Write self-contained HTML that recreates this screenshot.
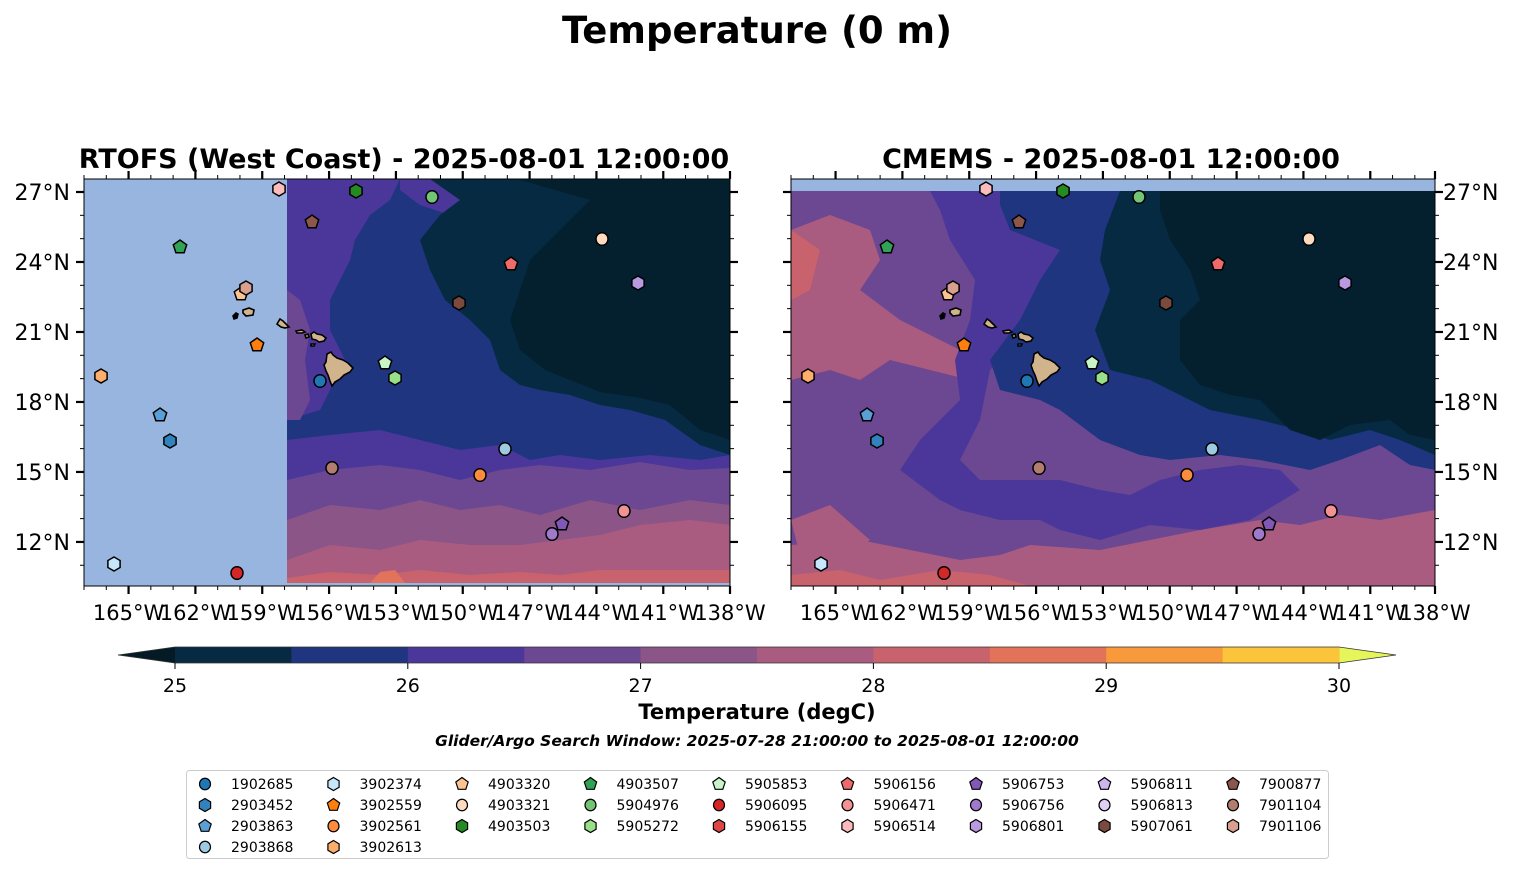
<!DOCTYPE html>
<html><head><meta charset="utf-8"><style>
body{margin:0;background:#fff;}
svg text{font-family:"DejaVu Sans","Liberation Sans",sans-serif;}
</style></head><body>
<svg id="s" width="1514" height="889" xmlns="http://www.w3.org/2000/svg">
<defs>
<clipPath id="cL"><rect x="84" y="179" width="646" height="407"/></clipPath>
<clipPath id="cR"><rect x="791" y="179" width="644" height="407"/></clipPath>
<g id="isl" stroke="#000" stroke-width="1.6" fill="#d2b48c">
<path d="M233,316 l3,-3 2,1 -1,4 -3,1z" fill="#000"/>
<path d="M243,310 l6,-2 5,2 -1,5 -7,1 -3,-3z"/>
<path d="M277,324 l3,-5 3,2 3,3 3,3 -4,1 -4,-1z"/>
<path d="M296,331 l6,-1 3,2 -3,1 -5,0z"/>
<path d="M305,335 l3,-1 1,3 -3,1z"/>
<path d="M311,334 l3,-2 3,2 5,1 4,3 -2,3 -5,1 -3,-2 -4,-1z"/>
<path d="M311,344 l4,0 -1,2 -3,0z"/>
<path d="M327,354 l4,-2 2,3 4,3 6,2 5,3 5,5 -3,4 -6,3 -4,4 -5,3 -3,4 -2,-5 -2,-6 -2,-4 -2,-6 2,-3z"/>
</g>
</defs>
<text x="757" y="43" font-size="37" font-weight="bold" text-anchor="middle">Temperature (0 m)</text>
<text x="404" y="168" font-size="27" font-weight="bold" text-anchor="middle">RTOFS (West Coast) - 2025-08-01 12:00:00</text>
<text x="1111" y="168" font-size="27" font-weight="bold" text-anchor="middle">CMEMS - 2025-08-01 12:00:00</text>

<g clip-path="url(#cL)">
<rect x="84" y="179" width="646" height="407" fill="#98b5e0"/>
<rect x="287" y="179" width="443" height="404" fill="#1f3580"/>
<path d="M287,179 L400,179 L390,200 L370,215 L355,240 L350,260 L340,280 L330,300 L330,330 L345,360 L320,410 L287,420 Z" fill="#4b379a"/>
<path d="M287,290 L300,300 L310,330 L305,360 L310,400 L300,420 L287,420Z" fill="#6c4792"/>
<path d="M400,179 L530,179 L520,200 L480,205 L450,215 L420,205 L400,190Z" fill="#4b379a"/>
<path d="M430,179 L730,179 L730,455 L700,445 L665,420 L630,410 L600,405 L570,395 L540,390 L520,385 L500,370 L490,340 L470,320 L445,300 L430,270 L420,240 L440,215 L460,200Z" fill="#062a42"/>
<path d="M520,180 L730,180 L730,440 L700,430 L670,405 L640,398 L600,392 L570,380 L545,370 L520,350 L510,320 L520,290 L530,260 L560,230 L590,200Z" fill="#04202f"/>
<path d="M287,440 L330,435 L380,430 L420,440 L460,450 L500,445 L530,460 L560,455 L600,460 L650,455 L700,460 L730,455 L730,583 L287,583Z" fill="#4b379a"/>
<path d="M287,480 L330,470 L380,465 L420,470 L460,480 L500,470 L540,465 L590,470 L640,462 L690,470 L730,468 L730,583 L287,583Z" fill="#6c4792"/>
<path d="M287,520 L330,505 L380,510 L420,500 L460,510 L500,505 L540,515 L590,500 L640,510 L690,500 L730,505 L730,583 L287,583Z" fill="#8b5588"/>
<path d="M287,560 L330,545 L380,550 L420,540 L470,545 L520,545 L560,540 L600,535 L640,525 L690,520 L730,525 L730,583 L287,583Z" fill="#aa5c80"/>
<path d="M287,578 L330,572 L380,575 L420,570 L470,575 L520,572 L560,575 L600,570 L730,570 L730,583 L287,583Z" fill="#c8636e"/>
<path d="M370,583 L380,572 L395,570 L405,583Z" fill="#e2735a"/>
<rect x="84" y="583" width="646" height="3" fill="#98b5e0"/>
<use href="#isl"/>
</g>
<rect x="84" y="179" width="646" height="407" fill="none" stroke="#000" stroke-width="1"/>

<g clip-path="url(#cR)">
<rect x="791" y="179" width="644" height="407" fill="#6c4792"/>
<path d="M791,230 L830,215 L870,230 L880,260 L860,290 L900,320 L920,330 L960,350 L990,370 L970,380 L930,370 L890,360 L860,380 L830,370 L791,380Z" fill="#aa5c80"/>
<path d="M791,230 L820,250 L810,290 L791,300Z" fill="#c8636e"/>
<path d="M791,520 L830,505 L870,540 L840,560 L800,555Z" fill="#aa5c80"/>
<path d="M791,545 L860,540 L960,560 L1000,555 L1030,545 L1100,550 L1150,540 L1200,530 L1260,520 L1300,525 L1340,515 L1380,520 L1435,510 L1435,586 L791,586Z" fill="#aa5c80"/>
<path d="M791,575 L840,570 L880,580 L940,570 L990,575 L1030,586 L791,586Z" fill="#c8636e"/>
<path d="M930,191 L1080,191 L1090,230 L1060,260 L1030,300 L1020,340 L990,370 L980,420 L960,460 L980,480 L1060,480 L1100,490 L1130,495 L1160,480 L1200,470 L1240,465 L1280,470 L1300,490 L1250,520 L1200,530 L1150,525 L1100,540 L1060,530 L1040,520 L1000,520 L960,510 L940,500 L900,470 L920,440 L960,400 L955,360 L970,320 L975,280 L950,240 L940,210Z" fill="#4b379a"/>
<path d="M1000,191 L1435,191 L1435,470 L1410,465 L1380,445 L1340,460 L1310,470 L1260,460 L1220,455 L1170,460 L1140,455 L1100,440 L1060,410 L1040,400 L1000,390 L990,360 L1020,320 L1040,280 L1060,250 L1010,230 L1000,205Z" fill="#1f3580"/>
<path d="M1120,191 L1435,191 L1435,455 L1400,440 L1370,430 L1330,440 L1300,430 L1260,420 L1210,410 L1180,395 L1150,380 L1110,370 L1095,330 L1110,290 L1100,260 L1105,230Z" fill="#062a42"/>
<path d="M1160,191 L1435,191 L1435,440 L1410,435 L1390,420 L1350,425 L1320,440 L1290,430 L1260,400 L1230,395 L1200,385 L1180,360 L1180,320 L1200,300 L1190,270 L1170,240 L1160,210Z" fill="#04202f"/>
<rect x="791" y="179" width="644" height="12" fill="#98b5e0"/>
<use href="#isl" transform="translate(707,0)"/>
</g>
<rect x="791" y="179" width="644" height="407" fill="none" stroke="#000" stroke-width="1"/>
<g id="ticks"></g>
<g id="mk"></g>

<g id="cb"></g>
<text x="757" y="719" font-size="21" font-weight="bold" text-anchor="middle">Temperature (degC)</text>
<text x="757" y="746" font-size="15.5" font-weight="bold" font-style="italic" text-anchor="middle">Glider/Argo Search Window: 2025-07-28 21:00:00 to 2025-08-01 12:00:00</text>
<rect x="186.5" y="770.5" width="1142" height="88" rx="3" fill="#fff" stroke="#ccc" stroke-width="1"/>
<g id="lg"></g>
</svg>
<script>
const NS="http://www.w3.org/2000/svg";
function el(p,t,a,txt){const e=document.createElementNS(NS,t);for(const k in a)e.setAttribute(k,a[k]);if(txt!==undefined)e.textContent=txt;document.getElementById(p).appendChild(e);return e;}
const pxd=22.28, x0=84, lon0=-167;
function lx(lon,off){return x0+off+(lon-lon0)*pxd;}
function ly(lat){return 192+(27-lat)*23.33;}
for(const off of [0,707]){
  const L=x0+off, R=off?1435:730;
  for(let lon=-167;lon<=-138;lon++){
    let x=lx(lon,off); if(x<L-0.5)continue; if(x>R)x=R;
    const maj=(lon+165)%3===0; const len=maj?8:4, w=maj?2.2:1;
    el("ticks","line",{x1:x,x2:x,y1:586,y2:586+len,stroke:"#000","stroke-width":w});
    el("ticks","line",{x1:x,x2:x,y1:179,y2:179-len,stroke:"#000","stroke-width":w});
    if(maj) el("ticks","text",{x:x,y:620,"font-size":"21","text-anchor":"middle"},(-lon)+"°W");
  }
  for(let lat=11;lat<=27;lat++){
    const y=ly(lat); const maj=lat%3===0; const len=maj?8:4,w=maj?2.2:1;
    el("ticks","line",{x1:L,x2:L-len,y1:y,y2:y,stroke:"#000","stroke-width":w});
    el("ticks","line",{x1:R,x2:R+len,y1:y,y2:y,stroke:"#000","stroke-width":w});
    if(maj){ if(off===0) el("ticks","text",{x:70,y:y+8,"font-size":"22","text-anchor":"end"},lat+"°N");
      else el("ticks","text",{x:1443,y:y+8,"font-size":"22"},lat+"°N");}
  }
}
const C={"1902685":["o","#1f77b4"],"2903452":["h","#3182bd"],"2903863":["p","#5aa0d6"],"2903868":["o","#9ecae1"],
"3902374":["h","#c6e6fb"],"3902559":["p","#ff7f0e"],"3902561":["o","#fd8d3c"],"3902613":["h","#fdae6b"],
"4903320":["p","#fdc491"],"4903321":["o","#fddbc0"],"4903503":["h","#238b22"],"4903507":["p","#31a354"],
"5904976":["o","#74c476"],"5905272":["h","#98df8a"],"5905853":["p","#c7f5c7"],"5906095":["o","#d62728"],
"5906155":["h","#de4545"],"5906156":["p","#ef6b6b"],"5906471":["o","#f29292"],"5906514":["h","#fcbcbc"],
"5906753":["p","#7f58b8"],"5906756":["o","#9e79cc"],"5906801":["h","#b99ae0"],"5906811":["p","#cdb5ee"],
"5906813":["o","#e0d0f5"],"7900877":["p","#8c564b"],"7901104":["o","#b17d6e"],"7901106":["h","#d9a090"],
"5907061":["h","#7a4a3f"]};
function mark(g,t,c,x,y,r,sw){
  if(t==="o") return el(g,"ellipse",{cx:x,cy:y,rx:r,ry:r*1.05,fill:c,stroke:"#000","stroke-width":sw});
  let n=t==="h"?6:5, pts=[];
  for(let i=0;i<n;i++){const a=-Math.PI/2+i*2*Math.PI/n;pts.push((x+r*Math.cos(a)).toFixed(1)+","+(y+r*Math.sin(a)).toFixed(1));}
  el(g,"polygon",{points:pts.join(" "),fill:c,stroke:"#000","stroke-width":sw});
}
const P=[["5906514",279,189],["4903503",356,191],["5904976",432,197],["7900877",312,222],["4903507",180,247],
["4903321",602,239],["5906156",511,264],["5906801",638,283],["4903320",241,294],["7901106",246,288],["5907061",459,303],
["3902559",257,345],["3902613",101,376],["5905853",385,363],["5905272",395,378],["1902685",320,381],
["2903863",160,415],["2903452",170,441],["2903868",505,449],["7901104",332,468],["3902561",480,475],
["5906471",624,511],["5906753",562,524],["5906756",552,534],["3902374",114,564],["5906095",237,573]];
for(const off of [0,707]) for(const [k,x,y] of P){const [t,c]=C[k];mark("mk",t,c,x+off,y,t==="o"?6:7,1.5);}
const cols=["#062a42","#1f3580","#4b379a","#6c4792","#8b5588","#aa5c80","#c8636e","#e2735a","#f89a3b","#fbc43b"];
const cx0=175,cw=116.4;
el("cb","polygon",{points:"118,655 175,647 175,663",fill:"#041b26"});
el("cb","polygon",{points:"1339,647 1396,655 1339,663",fill:"#e6f55a"});
cols.forEach((c,i)=>el("cb","rect",{x:cx0+i*cw,y:647,width:cw+0.5,height:16,fill:c}));
el("cb","polygon",{points:"118,655 175,647 1339,647 1396,655 1339,663 175,663",fill:"none",stroke:"#333","stroke-width":"0.8"});
for(let v=0;v<=5;v++){const x=cx0+v*2*cw;el("cb","line",{x1:x,x2:x,y1:663,y2:669,stroke:"#000","stroke-width":1});
 el("cb","text",{x:x,y:692,"font-size":"19","text-anchor":"middle"},25+v);}
const cols2=[["1902685","2903452","2903863","2903868"],["3902374","3902559","3902561","3902613"],["4903320","4903321","4903503"],
["4903507","5904976","5905272"],["5905853","5906095","5906155"],["5906156","5906471","5906514"],["5906753","5906756","5906801"],
["5906811","5906813","5907061"],["7900877","7901104","7901106"]];
cols2.forEach((col,i)=>{const x=205+i*128.5;col.forEach((k,j)=>{const y=784+j*21;const [t,c]=C[k];
 mark("lg",t,c,x,y,t==="o"?5.5:6.5,1.2);el("lg","text",{x:x+26,y:y+5,"font-size":"14"},k);});});
</script>
</body></html>
